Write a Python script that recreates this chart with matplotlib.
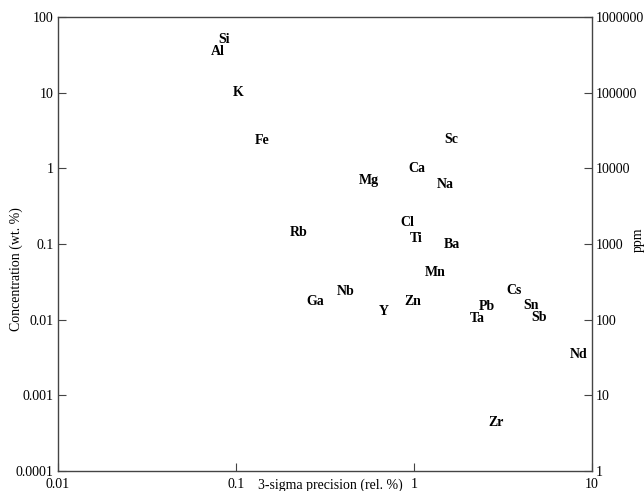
import matplotlib
matplotlib.use("Agg")
import matplotlib.pyplot as plt
from matplotlib.ticker import FixedLocator, FixedFormatter, NullLocator

elements = ["Si", "Al", "K", "Fe", "Rb", "Mg", "Ca", "Sc", "Na", "Cl", "Ti", "Ba",
            "Mn", "Nb", "Ga", "Y", "Zn", "Cs", "Pb", "Sn", "Sb", "Ta", "Nd", "Zr"]
precision = [0.086, 0.079, 0.103, 0.141, 0.224, 0.555, 1.035, 1.61, 1.49, 0.92, 1.035, 1.63,
             1.31, 0.412, 0.279, 0.674, 0.982, 3.63, 2.56, 4.53, 5.02, 2.28, 8.44, 2.88]
concentration = [49.7, 34.5, 9.9, 2.30, 0.140, 0.682, 1.01, 2.37, 0.604, 0.190, 0.117, 0.100,
                 0.0415, 0.0233, 0.0172, 0.0127, 0.0172, 0.0240, 0.0148, 0.0152, 0.0106,
                 0.0103, 0.00343, 0.000434]

x_ticks = [0.01, 0.1, 1, 10]
x_tick_labels = ["0.01", "0.1", "1", "10"]
y_ticks = [0.0001, 0.001, 0.01, 0.1, 1, 10, 100]
y_tick_labels = ["0.0001", "0.001", "0.01", "0.1", "1", "10", "100"]
ppm_ticks = [1, 10, 100, 1000, 10000, 100000, 1000000]
ppm_tick_labels = ["1", "10", "100", "1000", "10000", "100000", "1000000"]

plt.rcParams['font.family'] = ['Liberation Serif', 'DejaVu Serif']
plt.rcParams['font.size'] = 10

fig = plt.figure(figsize=(6.44, 4.91), dpi=100)
ax = fig.add_axes([58/644, 20/491, 534/644, 454/491])
ax.set_xscale('log')
ax.set_yscale('log')
ax.set_xlim(0.01, 10)
ax.set_ylim(0.0001, 100)

for name, x, y in zip(elements, precision, concentration):
    ax.text(x, y, name, ha='center', va='center', fontweight='bold', fontsize=10)

spine_color = '#444444'
for s in ax.spines.values():
    s.set_color(spine_color)
    s.set_linewidth(1.0)

ax.xaxis.set_major_locator(FixedLocator(x_ticks))
ax.xaxis.set_major_formatter(FixedFormatter(x_tick_labels))
ax.xaxis.set_minor_locator(NullLocator())
ax.yaxis.set_major_locator(FixedLocator(y_ticks))
ax.yaxis.set_major_formatter(FixedFormatter(y_tick_labels))
ax.yaxis.set_minor_locator(NullLocator())
ax.tick_params(axis='both', direction='in', length=6, width=0.8, color=spine_color,
               labelsize=10, pad=3)
ax.tick_params(axis='x', pad=5)

ax.set_xlabel("3-sigma precision (rel. %)", fontsize=10)
ax.xaxis.set_label_coords(0.51, -0.0165, transform=ax.transAxes)
ax.xaxis.label.set_va('top')
ax.set_ylabel("Concentration (wt. %)", fontsize=10)
ax.yaxis.set_label_coords(-0.066, 0.445)

ax2 = ax.twinx()
ax2.set_yscale('log')
ax2.set_ylim(1, 1000000)
ax2.yaxis.set_major_locator(FixedLocator(ppm_ticks))
ax2.yaxis.set_major_formatter(FixedFormatter(ppm_tick_labels))
ax2.yaxis.set_minor_locator(NullLocator())
ax2.tick_params(axis='y', direction='in', length=6, width=0.8, color=spine_color,
                labelsize=10, pad=3)
for s in ax2.spines.values():
    s.set_visible(False)
ax2.set_ylabel("ppm", fontsize=10, rotation=90)
ax2.yaxis.set_label_coords(1.075, 0.51)

fig.savefig("out.png", dpi=100)
